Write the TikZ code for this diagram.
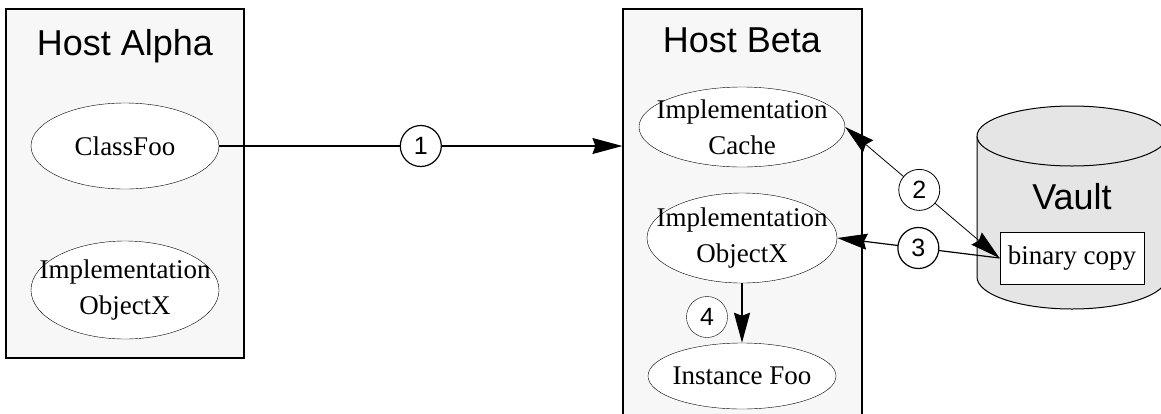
\documentclass[tikz,border=0pt]{standalone}
\usepackage{fontspec}
\setmainfont{Liberation Serif}
\setsansfont{Liberation Sans}
\usetikzlibrary{shapes,arrows.meta}

\tikzset{
  hostbox/.style={draw, line width=1.2pt, fill=black!3, inner sep=0pt},
  title/.style={font=\sffamily\fontsize{36}{40}\selectfont, anchor=base},
  obj/.style={draw, ellipse, fill=white, inner xsep=-20pt, inner ysep=-6pt, align=center,
              font=\fontsize{27}{36}\selectfont},
  num/.style={draw, circle, fill=white, minimum size=41pt, inner sep=0pt,
              font=\sffamily\fontsize{25}{25}\selectfont},
  >={Stealth[length=30pt, width=16pt, inset=3pt]}
}

\begin{document}
\begin{tikzpicture}[x=1pt, y=1pt]
  \useasboundingbox (0,0) rectangle (1161,-413);

  % Hosts
  \node[hostbox, minimum width=238, minimum height=349] (alpha) at (125,-183.5) {};
  \node[hostbox, minimum width=239, minimum height=430] (beta) at (742.5,-224) {};
  \node[title] (alphalabel) at (125,-55) {Host Alpha};
  \node[title] (betalabel) at (742,-52) {Host Beta};

  % Host Alpha
  \node[obj, minimum width=188, minimum height=86] (classfoo) at (125,-146) {ClassFoo};
  \node[obj, minimum width=188, minimum height=98] (obja) at (125,-290) {Implementation\\ObjectX};

  % Host Beta
  \node[obj, minimum width=206, minimum height=80] (cache) at (742,-127) {Implementation\\Cache};
  \node[obj, minimum width=190, minimum height=90] (objb) at (742,-238) {Implementation\\ObjectX};
  \node[obj, minimum width=188, minimum height=66] (instfoo) at (742,-376) {Instance Foo};

  % Vault
  \fill[black!10] (977,-136) -- (977,-277) arc[start angle=180, end angle=360, x radius=95, y radius=32] -- (1167,-136) -- cycle;
  \draw[line width=1pt] (977,-136) -- (977,-277) arc[start angle=180, end angle=360, x radius=95, y radius=32] -- (1167,-136);
  \draw[line width=1pt, fill=black!10] (1072,-136) ellipse [x radius=95, y radius=30];
  \node[title] (vaultlabel) at (1072,-209) {Vault};
  \node[draw, line width=1pt, fill=white, minimum width=144, minimum height=52,
        font=\fontsize{27}{33}\selectfont] (bin) at (1072,-258) {binary copy};

  % Arrows
  \draw[->, line width=1.2pt] (classfoo.east) -- node[num] {1} (classfoo.east -| beta.west);
  \draw[<->, line width=0.8pt] (cache.east) -- node[num, pos=0.48] {2} (bin.west);
  \draw[->, line width=1.2pt] (bin.west) -- node[num] {3} (objb.east);
  \draw[->, line width=2pt] (objb.south) -- (instfoo.north);
  \node[num] (four) at (707,-317) {4};
\end{tikzpicture}
\end{document}
